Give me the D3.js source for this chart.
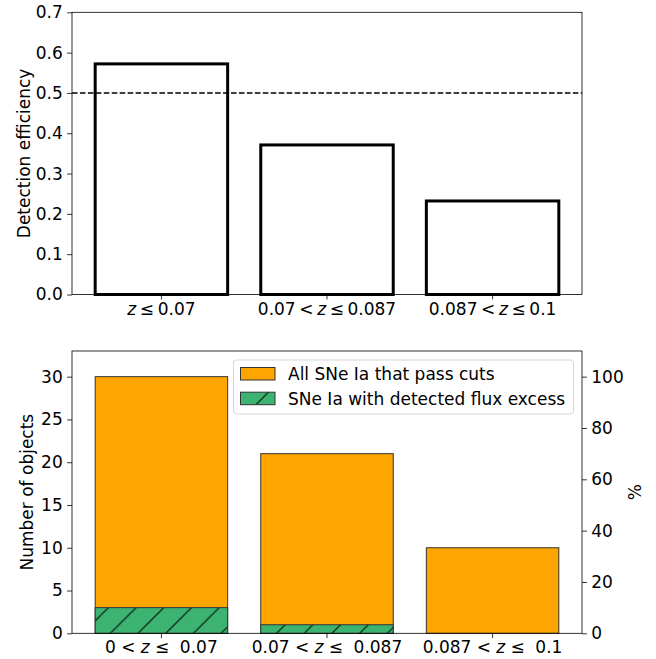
<!DOCTYPE html>
<html>
<head>
<meta charset="utf-8">
<script src="https://cdn.jsdelivr.net/npm/d3@7"></script>
<style>
  html, body { margin: 0; padding: 0; background: #fff; }
  svg { display: block; font-family: "DejaVu Sans", sans-serif; }
</style>
</head>
<body>
<svg id="chart" width="656" height="659"></svg>
<script>
// ---------- data ----------
const topCategories = ["z ≤ 0.07", "0.07 < z ≤ 0.087", "0.087 < z ≤ 0.1"];
const efficiency = [0.572, 0.371, 0.232];
const efficiencyThreshold = 0.5;
const topYTicks = [0.0, 0.1, 0.2, 0.3, 0.4, 0.5, 0.6, 0.7];

const bottomCategories = ["0 < z ≤  0.07", "0.07 < z ≤  0.087", "0.087 < z ≤  0.1"];
const allSNe = [30, 21, 10];
const fluxExcess = [3, 1, 0];
const bottomYTicks = [0, 5, 10, 15, 20, 25, 30];
const percentTicks = [0, 20, 40, 60, 80, 100];
const legendLabels = ["All SNe Ia that pass cuts", "SNe Ia with detected flux excess"];

// ---------- layout ----------
const svg = d3.select("#chart");
const FS = 17;
const L = 72, R = 582;
const top1 = 12.3, bot1 = 294.5;
const top2 = 351, bot2 = 633.3;
const TICK = 4.9;

const x = d3.scaleLinear().domain([-0.54, 2.54]).range([L, R]);
const barW = 0.8;
const y1 = d3.scaleLinear().domain([0, 0.7]).range([bot1, top1]);
const y2 = d3.scaleLinear().domain([0, 33]).range([bot2, top2]);
const y2r = d3.scaleLinear().domain([0, 110]).range([bot2, top2]);

// hatch pattern
const defs = svg.append("defs");
const hs = 27.7;
const pat = defs.append("pattern").attr("id", "hatch")
  .attr("patternUnits", "userSpaceOnUse").attr("width", hs).attr("height", hs)
  .attr("x", 23.5).attr("y", 0);
pat.append("rect").attr("width", hs).attr("height", hs).attr("fill", "#3CB371");
[[0, hs, hs, 0], [-hs/2, hs/2, hs/2, -hs/2], [hs/2, hs*1.5, hs*1.5, hs/2]].forEach(c => {
  pat.append("line").attr("x1", c[0]).attr("y1", c[1]).attr("x2", c[2]).attr("y2", c[3])
    .attr("stroke", "#000").attr("stroke-width", 1);
});

function mathLabel(sel, str, gap) {
  const tokens = str.split(" ");
  let pending = 0;
  let first = true;
  tokens.forEach(tok => {
    if (tok === "") { pending += gap; return; }
    const t = sel.append("tspan").text(tok);
    if (!first) t.attr("dx", gap + pending);
    pending = 0;
    first = false;
    if (tok === "z") t.attr("font-style", "italic");
  });
}

function xAxisLabels(cats, yBase, yTop, gap) {
  cats.forEach((c, i) => {
    svg.append("line").attr("x1", x(i)).attr("x2", x(i)).attr("y1", yTop).attr("y2", yTop + TICK)
      .attr("stroke", "#000").attr("stroke-width", 0.8);
    const t = svg.append("text").attr("x", x(i)).attr("y", yBase)
      .attr("text-anchor", "middle").attr("font-size", FS).attr("fill", "#000");
    mathLabel(t, c, gap);
  });
}

// ---------- top chart ----------
const g1 = svg.append("g");
g1.selectAll("rect.bar").data(efficiency).join("rect")
  .attr("x", (d, i) => x(i - barW/2)).attr("width", x(barW) - x(0))
  .attr("y", d => y1(d)).attr("height", d => y1(0) - y1(d))
  .attr("fill", "#fff").attr("stroke", "#000").attr("stroke-width", 3);

g1.append("line").attr("x1", L).attr("x2", R)
  .attr("y1", y1(efficiencyThreshold)).attr("y2", y1(efficiencyThreshold))
  .attr("stroke", "#000").attr("stroke-width", 1.5).attr("stroke-dasharray", "5.55,2.4");

g1.append("rect").attr("x", L).attr("y", top1).attr("width", R - L).attr("height", bot1 - top1)
  .attr("fill", "none").attr("stroke", "#000").attr("stroke-width", 0.8);

const ax1 = svg.append("g").attr("transform", `translate(${L},0)`)
  .call(d3.axisLeft(y1).tickValues(topYTicks).tickFormat(d3.format(".1f")).tickSize(TICK).tickPadding(4.4));
ax1.select(".domain").remove();
ax1.selectAll("line").attr("stroke-width", 0.8);
ax1.selectAll("text").attr("font-size", FS).attr("font-family", "DejaVu Sans").attr("fill", "#000");

xAxisLabels(topCategories, 315, bot1, 3.6);

svg.append("text").attr("transform", `translate(30,${(top1 + bot1)/2}) rotate(-90)`)
  .attr("text-anchor", "middle").attr("font-size", FS).attr("fill", "#000")
  .text("Detection efficiency");

// ---------- bottom chart ----------
const g2 = svg.append("g");
g2.selectAll("rect.all").data(allSNe).join("rect")
  .attr("x", (d, i) => x(i - barW/2)).attr("width", x(barW) - x(0))
  .attr("y", d => y2(d)).attr("height", d => y2(0) - y2(d))
  .attr("fill", "#FFA500").attr("stroke", "#333").attr("stroke-width", 1);
g2.selectAll("rect.fx").data(fluxExcess).join("rect")
  .attr("x", (d, i) => x(i - barW/2)).attr("width", x(barW) - x(0))
  .attr("y", d => y2(d)).attr("height", d => y2(0) - y2(d))
  .attr("fill", "url(#hatch)").attr("stroke", "#333").attr("stroke-width", d => d > 0 ? 1 : 0);

g2.append("rect").attr("x", L).attr("y", top2).attr("width", R - L).attr("height", bot2 - top2)
  .attr("fill", "none").attr("stroke", "#000").attr("stroke-width", 0.8);

const ax2 = svg.append("g").attr("transform", `translate(${L},0)`)
  .call(d3.axisLeft(y2).tickValues(bottomYTicks).tickSize(TICK).tickPadding(4.4));
ax2.select(".domain").remove();
ax2.selectAll("line").attr("stroke-width", 0.8);
ax2.selectAll("text").attr("font-size", FS).attr("font-family", "DejaVu Sans").attr("fill", "#000");

const ax2r = svg.append("g").attr("transform", `translate(${R},0)`)
  .call(d3.axisRight(y2r).tickValues(percentTicks).tickSize(TICK).tickPadding(4.4));
ax2r.select(".domain").remove();
ax2r.selectAll("line").attr("stroke-width", 0.8);
ax2r.selectAll("text").attr("font-size", FS).attr("font-family", "DejaVu Sans").attr("fill", "#000");

xAxisLabels(bottomCategories, 653, bot2, 5.3);

svg.append("text").attr("transform", `translate(33,${(top2 + bot2)/2}) rotate(-90)`)
  .attr("text-anchor", "middle").attr("font-size", FS).attr("fill", "#000")
  .text("Number of objects");
svg.append("text").attr("transform", `translate(641,${(top2 + bot2)/2}) rotate(-90)`)
  .attr("text-anchor", "middle").attr("font-size", FS).attr("fill", "#000")
  .text("%");

// legend
const lg = svg.append("g");
lg.append("rect").attr("x", 233.5).attr("y", 360).attr("width", 340).attr("height", 54)
  .attr("rx", 3).attr("fill", "#fff").attr("fill-opacity", 0.8)
  .attr("stroke", "#d6d6d6").attr("stroke-width", 1);
const legFills = ["#FFA500", "url(#hatch)"];
legendLabels.forEach((lab, i) => {
  const yy = 367.5 + i * 24.7;
  lg.append("rect").attr("x", 240.5).attr("y", yy).attr("width", 34.5).attr("height", 12.5)
    .attr("fill", legFills[i]).attr("stroke", "#333").attr("stroke-width", 1);
  lg.append("text").attr("x", 288).attr("y", 380 + i * 24.5).attr("font-size", FS).attr("fill", "#000")
    .text(lab);
});
</script>
</body>
</html>
